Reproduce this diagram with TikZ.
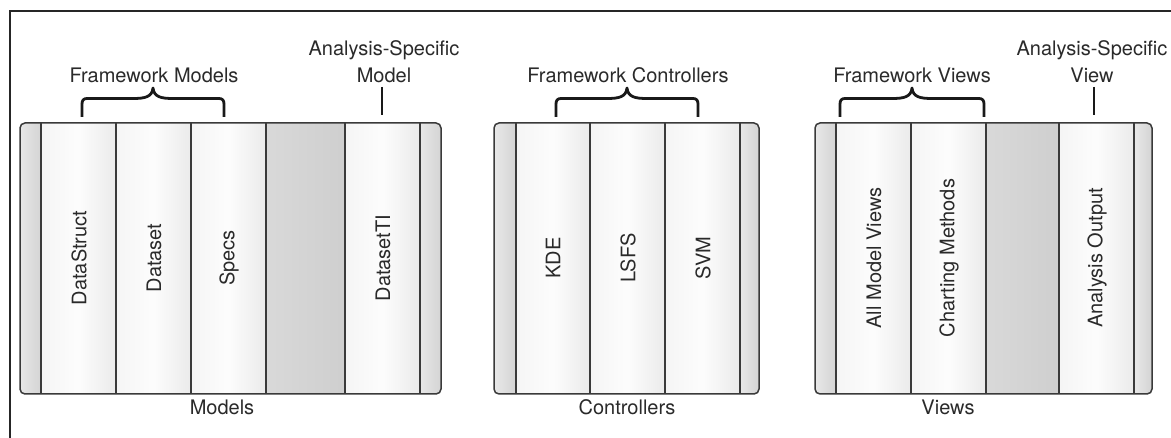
\documentclass[tikz,border=0pt]{standalone}
\usepackage{fontspec}
\setmainfont{TeX Gyre Heros}
\definecolor{ink}{HTML}{2A2A2A}
\definecolor{rule}{HTML}{3A3A3A}
\newcommand\mybrace[2]{%
  \pgfmathsetmacro\bmid{(#1+#2)/2}%
  \draw[brace] (#1,117) -- (#1,104) .. controls (#1,100.5) and (#1+1.5,98.5) .. (#1+5,98.5)
    -- (\bmid-20,98.5) .. controls (\bmid-8,98.5) and (\bmid-1,97) .. (\bmid,88)
    .. controls (\bmid+1,97) and (\bmid+8,98.5) .. (\bmid+20,98.5)
    -- (#2-5,98.5) .. controls (#2-1.5,98.5) and (#2,100.5) .. (#2,104) -- (#2,117);}
\begin{document}
\begin{tikzpicture}[x=1pt,y=-1pt,
  font=\fontsize{20}{27}\selectfont, text=ink,
  frame/.style={line width=1.5pt, draw=black!85},
  edgecol/.style={left color=black!9, right color=black!17},
  emptycol/.style={left color=black!15, right color=black!19},
  contentcol/.style={left color=black!4, right color=black!8, middle color=black!1},
  divider/.style={line width=1.2pt, draw=rule},
  panelbox/.style={draw=rule, line width=1.5pt, rounded corners=5pt, inner sep=0pt, minimum height=271pt},
  coltext/.style={rotate=90, inner sep=0pt},
  lbl/.style={align=center, inner sep=0pt},
  brace/.style={line width=2.8pt, line join=round, draw=black!90},
  pointer/.style={line width=2pt, draw=black!90}]
\useasboundingbox (0,0) rectangle (1171,438);
\fill[white] (0,0) rectangle (1171,438);
% outer frame
\draw[frame] (10,438) -- (10,11) -- (1171,11);

% ---------- Models panel ----------
\begin{scope}
  \clip[rounded corners=5pt] (20,123) rectangle (441,394);
  \shade[edgecol] (20,123) rectangle (41,394);
  \shade[contentcol] (41,123) rectangle (116,394);
  \shade[contentcol] (116,123) rectangle (191,394);
  \shade[contentcol] (191,123) rectangle (266,394);
  \shade[emptycol] (266,123) rectangle (345,394);
  \shade[contentcol] (345,123) rectangle (420,394);
  \shade[edgecol] (420,123) rectangle (441,394);
\end{scope}
\foreach \x in {41,116,191,266,345,420} \draw[divider] (\x,123) -- (\x,394);
\node[panelbox, minimum width=421pt] (models) at (230.5,258.5) {};
\node[coltext] (datastruct) at (79,258) {DataStruct};
\node[coltext] (dataset) at (154,258) {Dataset};
\node[coltext] (specs) at (229,258) {Specs};
\node[coltext] (datasetti) at (383,258) {DatasetTI};
\node[lbl] (modelslbl) at (222,407) {Models};

% ---------- Controllers panel ----------
\begin{scope}
  \clip[rounded corners=5pt] (494,123) rectangle (759,394);
  \shade[edgecol] (494,123) rectangle (516,394);
  \shade[contentcol] (516,123) rectangle (590,394);
  \shade[contentcol] (590,123) rectangle (665,394);
  \shade[contentcol] (665,123) rectangle (740,394);
  \shade[edgecol] (740,123) rectangle (759,394);
\end{scope}
\foreach \x in {516,590,665,740} \draw[divider] (\x,123) -- (\x,394);
\node[panelbox, minimum width=265pt] (controllers) at (626.5,258.5) {};
\node[coltext] (kde) at (553,258) {KDE};
\node[coltext] (lsfs) at (628,258) {LSFS};
\node[coltext] (svm) at (703,258) {SVM};
\node[lbl] (controllerslbl) at (627,407) {Controllers};

% ---------- Views panel ----------
\begin{scope}
  \clip[rounded corners=5pt] (815,123) rectangle (1152,394);
  \shade[edgecol] (815,123) rectangle (836,394);
  \shade[contentcol] (836,123) rectangle (911,394);
  \shade[contentcol] (911,123) rectangle (986,394);
  \shade[emptycol] (986,123) rectangle (1059,394);
  \shade[contentcol] (1059,123) rectangle (1134,394);
  \shade[edgecol] (1134,123) rectangle (1152,394);
\end{scope}
\foreach \x in {836,911,986,1059,1134} \draw[divider] (\x,123) -- (\x,394);
\node[panelbox, minimum width=337pt] (views) at (983.5,258.5) {};
\node[coltext] (allmodel) at (874,258) {All Model Views};
\node[coltext] (charting) at (949,258) {Charting Methods};
\node[coltext] (analysisout) at (1097,258) {Analysis Output};
\node[lbl] (viewslbl) at (948,407) {Views};

% ---------- top labels and braces ----------
\node[lbl] (fmodels) at (154,75) {Framework Models};
\mybrace{82}{224}
\node[lbl] (fcontrollers) at (628,75) {Framework Controllers};
\mybrace{556}{698}
\node[lbl] (fviews) at (912,75) {Framework Views};
\mybrace{840}{984}

\node[lbl] (asmodel) at (384,62) {Analysis-Specific\\Model};
\coordinate (asmtop) at (382,87);
\coordinate (asmtip) at (382,115);
\draw[pointer] (asmtop) -- (asmtip);

\node[lbl] (asview) at (1092,62) {Analysis-Specific\\View};
\coordinate (asvtop) at (1094,87);
\coordinate (asvtip) at (1094,115);
\draw[pointer] (asvtop) -- (asvtip);
\end{tikzpicture}
\end{document}
